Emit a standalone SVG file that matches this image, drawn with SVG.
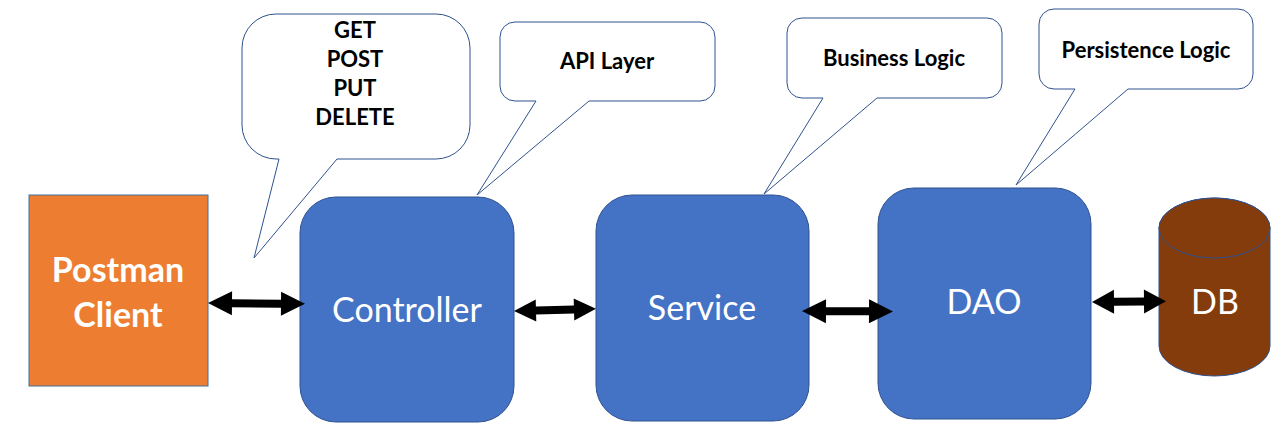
<svg xmlns="http://www.w3.org/2000/svg" width="1280" height="440" viewBox="0 0 1280 440">
<style>
.callout{fill:#fff;stroke:#2F528F;stroke-width:1}
.ctext{font-family:Lato,"Open Sans","Liberation Sans",sans-serif;font-weight:bold;font-size:22px;fill:#000;text-anchor:middle}
.box{fill:#4472C4;stroke:#2F528F;stroke-width:1}
.btext{font-family:Lato,"Open Sans","Liberation Sans",sans-serif;font-size:34px;fill:#fff;text-anchor:middle}
.ptext{font-family:Lato,"Open Sans","Liberation Sans",sans-serif;font-weight:bold;font-size:34px;fill:#fff;text-anchor:middle}
.arrow{fill:#000}
</style>
<rect width="1280" height="440" fill="#fff"/>
<g id="callout-methods">
<path class="callout" d="M276,14 H436 A34,34 0 0 1 470,48 V125 A34,34 0 0 1 436,159 H337 L254,258 L279,159 H276 A34,34 0 0 1 242,125 V48 A34,34 0 0 1 276,14 Z"/>
<text class="ctext" x="355" y="38">GET</text>
<text class="ctext" x="355" y="67">POST</text>
<text class="ctext" x="355" y="96">PUT</text>
<text class="ctext" x="355" y="125">DELETE</text>
</g>
<g id="callout-api">
<path class="callout" d="M515,22 H700 A15,15 0 0 1 715,37 V86 A15,15 0 0 1 700,101 H589 L477,195 L536,101 H515 A15,15 0 0 1 500,86 V37 A15,15 0 0 1 515,22 Z"/>
<text class="ctext" x="607" y="69">API Layer</text>
</g>
<g id="callout-business">
<path class="callout" d="M802,18 H987 A15,15 0 0 1 1002,33 V83 A15,15 0 0 1 987,98 H877 L764,194 L823,98 H802 A15,15 0 0 1 787,83 V33 A15,15 0 0 1 802,18 Z"/>
<text class="ctext" x="894" y="66">Business Logic</text>
</g>
<g id="callout-persistence">
<path class="callout" d="M1054,9 H1238 A15,15 0 0 1 1253,24 V74 A15,15 0 0 1 1238,89 H1128 L1016,185 L1075,89 H1054 A15,15 0 0 1 1039,74 V24 A15,15 0 0 1 1054,9 Z"/>
<text class="ctext" x="1146" y="58">Persistence Logic</text>
</g>
<g id="postman">
<rect x="29" y="195" width="179" height="191" fill="#ED7D31" stroke="#41719C" stroke-width="1"/>
<text class="ptext" x="118" y="282">Postman</text>
<text class="ptext" x="118" y="327">Client</text>
</g>
<g id="controller">
<rect class="box" x="300" y="197" width="214" height="225" rx="36" ry="36"/>
<text class="btext" x="407" y="322">Controller</text>
</g>
<g id="service">
<rect class="box" x="596" y="195" width="213" height="226" rx="36" ry="36"/>
<text class="btext" x="702" y="320">Service</text>
</g>
<g id="dao">
<rect class="box" x="878" y="188" width="213" height="231" rx="36" ry="36"/>
<text class="btext" x="984" y="314">DAO</text>
</g>
<g id="db">
<path d="M1159,228 V346 A55.5,30 0 0 0 1270,346 V228 A55.5,30 0 0 0 1159,228 Z" fill="#843C0C" stroke="#2F528F" stroke-width="1"/>
<ellipse cx="1214.5" cy="228" rx="55.5" ry="30" fill="#843C0C" stroke="#2F528F" stroke-width="1"/>
<text class="btext" x="1215" y="314">DB</text>
</g>
<g id="connectors">
<polygon class="arrow" transform="translate(208,303) rotate(0.5)" points="0,0 24,-12 24,-4 73,-4 73,-12 97,0 73,12 73,4 24,4 24,12"/>
<polygon class="arrow" transform="translate(514,311) rotate(-1.5)" points="0,0 22,-11 22,-4 60,-4 60,-11 82,0 60,11 60,4 22,4 22,11"/>
<polygon class="arrow" transform="translate(802,311) rotate(0.3)" points="0,0 24,-12 24,-4 67,-4 67,-12 91,0 67,12 67,4 24,4 24,12"/>
<polygon class="arrow" transform="translate(1092,302) rotate(-0.5)" points="0,0 22,-12 22,-4 52,-4 52,-12 74,0 52,12 52,4 22,4 22,12"/>
</g>
</svg>
